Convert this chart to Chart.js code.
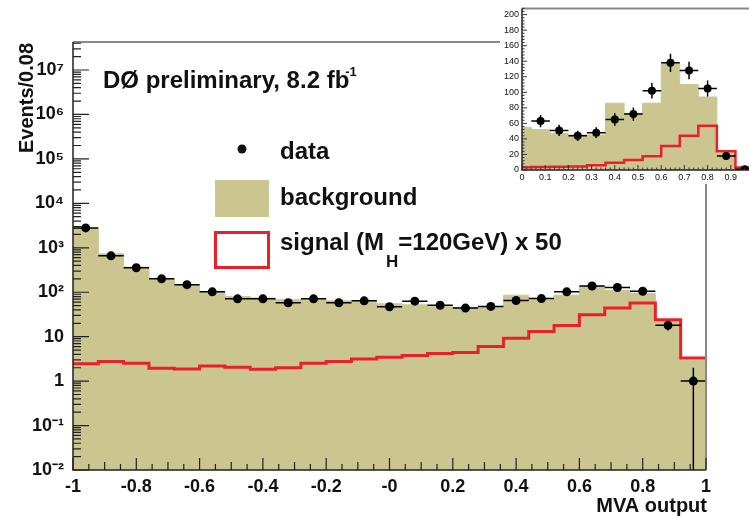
<!DOCTYPE html>
<html>
<head>
<meta charset="utf-8">
<script src="https://cdn.jsdelivr.net/npm/chart.js@4.4.1/dist/chart.umd.min.js"></script>
<style>
  html, body { margin: 0; padding: 0; background: #fff; overflow: hidden; }
  #wrap { position: relative; width: 749px; height: 517px; overflow: hidden; }
  #mainChart { position: absolute; left: 0; top: 0; }
  #insetChart { position: absolute; left: 500px; top: 0; }
</style>
</head>
<body>
<div id="wrap">
  <canvas id="mainChart" width="749" height="517"></canvas>
  <canvas id="insetChart" width="262" height="184"></canvas>
</div>
<script>
// MVA output, 25 bins of width 0.08 between -1 and 1
var binCenters = [-0.96, -0.88, -0.80, -0.72, -0.64, -0.56, -0.48, -0.40, -0.32, -0.24, -0.16, -0.08,
                  0.00, 0.08, 0.16, 0.24, 0.32, 0.40, 0.48, 0.56, 0.64, 0.72, 0.80, 0.88, 0.96];
var binWidth = 0.08;
var dataCounts = [2800, 660, 355, 200, 148, 102, 71, 71, 58, 71, 58, 64, 47,
                  63, 51, 44, 48, 65, 72, 102, 138, 128, 105, 18, 1];
var background = [2700, 730, 367, 200, 147, 104, 80, 74, 68, 68, 64, 62, 55,
                  52, 47, 45, 45, 86, 73, 86, 137, 110, 94, 22, 3];
var signalX50 = [2.45, 2.75, 2.53, 1.95, 1.88, 2.2, 2.05, 1.85, 2.0, 2.53, 2.75, 3.15, 3.45,
                 3.75, 4.2, 4.4, 6.0, 9.2, 13, 17.8, 31, 44, 57, 24, 3.3];

var xTickLabels = ['-1', '-0.8', '-0.6', '-0.4', '-0.2', '-0', '0.2', '0.4', '0.6', '0.8', '1'];
var yTickLabels = ['10⁻²', '10⁻¹', '1', '10', '10²', '10³', '10⁴', '10⁵', '10⁶', '10⁷'];
var insetXTickLabels = ['0', '0.1', '0.2', '0.3', '0.4', '0.5', '0.6', '0.7', '0.8', '0.9', '1'];
var insetYTickLabels = ['0', '20', '40', '60', '80', '100', '120', '140', '160', '180', '200'];

var FONT = "'Liberation Sans', Arial, sans-serif";
var TAN = 'rgb(203, 198, 144)';
var RED = '#e8202a';
var INK = '#111';

// histogram outline: one point per left bin edge plus the last right edge
function stepPoints(values, from) {
  var pts = [];
  for (var i = from; i < values.length; i++) {
    pts.push({ x: binCenters[i] - binWidth / 2, y: values[i] });
  }
  var last = values.length - 1;
  pts.push({ x: binCenters[last] + binWidth / 2, y: values[last] });
  return pts;
}

function dataPoints(from) {
  var pts = [];
  for (var i = from; i < dataCounts.length; i++) pts.push({ x: binCenters[i], y: dataCounts[i] });
  return pts;
}

var whiteBg = {
  id: 'whiteBg',
  beforeDraw: function (chart) {
    var ctx = chart.ctx;
    ctx.save();
    ctx.fillStyle = '#fff';
    ctx.fillRect(0, 0, chart.width, chart.height);
    ctx.restore();
  }
};

// poisson error bars, horizontal bar spans the bin
var errorBars = {
  id: 'errorBars',
  afterDatasetsDraw: function (chart) {
    var ctx = chart.ctx, a = chart.chartArea;
    var xs = chart.scales.x, ys = chart.scales.y;
    var lw = chart.options.plugins.errorBars.lineWidth || 1.5;
    ctx.save();
    ctx.beginPath();
    ctx.rect(a.left, a.top, a.right - a.left, a.bottom - a.top);
    ctx.clip();
    ctx.strokeStyle = '#000';
    ctx.lineWidth = lw;
    ctx.beginPath();
    chart.data.datasets[0].data.forEach(function (p) {
      var err = Math.sqrt(p.y);
      var px = xs.getPixelForValue(p.x);
      var py = ys.getPixelForValue(p.y);
      var lo = p.y - err;
      var yLo = lo > 0 ? ys.getPixelForValue(lo) : a.bottom;
      var yHi = ys.getPixelForValue(p.y + err);
      ctx.moveTo(xs.getPixelForValue(p.x - binWidth / 2), py);
      ctx.lineTo(xs.getPixelForValue(p.x + binWidth / 2), py);
      ctx.moveTo(px, yLo);
      ctx.lineTo(px, yHi);
    });
    ctx.stroke();
    ctx.restore();
  }
};

function drawFrame(ctx, a) {
  ctx.strokeStyle = '#888';
  ctx.lineWidth = 2;
  ctx.beginPath();
  ctx.moveTo(a.left, a.top);
  ctx.lineTo(a.right, a.top);
  ctx.lineTo(a.right, a.bottom);
  ctx.stroke();
  ctx.strokeStyle = '#222';
  ctx.lineWidth = 1.5;
  ctx.beginPath();
  ctx.moveTo(a.left, a.top);
  ctx.lineTo(a.left, a.bottom);
  ctx.lineTo(a.right, a.bottom);
  ctx.stroke();
}

var mainDecor = {
  id: 'mainDecor',
  afterDraw: function (chart) {
    var ctx = chart.ctx, a = chart.chartArea;
    var xs = chart.scales.x, ys = chart.scales.y;
    ctx.save();
    drawFrame(ctx, a);

    // ticks point into the frame
    ctx.strokeStyle = '#222';
    ctx.lineWidth = 1.2;
    ctx.beginPath();
    for (var i = 0; i <= 40; i++) {
      var px = xs.getPixelForValue(-1 + i * 0.05);
      var len = i % 4 === 0 ? 12 : (i % 2 === 0 ? 8 : 6);
      ctx.moveTo(px, a.bottom);
      ctx.lineTo(px, a.bottom - len);
    }
    for (var d = -2; d <= 7; d++) {
      for (var k = 1; k <= 9; k++) {
        var v = k * Math.pow(10, d);
        if (v > ys.max) break;
        var py = ys.getPixelForValue(v);
        ctx.moveTo(a.left, py);
        ctx.lineTo(a.left + (k === 1 ? 16 : 8), py);
      }
    }
    ctx.stroke();

    ctx.fillStyle = INK;
    ctx.textBaseline = 'alphabetic';

    // experiment label
    ctx.font = 'bold 24px ' + FONT;
    ctx.textAlign = 'left';
    var lab = 'DØ preliminary, 8.2 fb';
    ctx.fillText(lab, 103, 88);
    var w = ctx.measureText(lab).width;
    ctx.font = 'bold 13px ' + FONT;
    ctx.fillText('-1', 103 + w - 4, 76);

    // axis titles
    ctx.font = 'bold 20px ' + FONT;
    ctx.textAlign = 'right';
    ctx.fillText('MVA output', a.right + 1, 512);
    ctx.save();
    ctx.translate(33, 43);
    ctx.rotate(-Math.PI / 2);
    ctx.fillText('Events/0.08', 0, 0);
    ctx.restore();

    // legend
    ctx.textAlign = 'left';
    ctx.beginPath();
    ctx.arc(242, 149, 4.5, 0, Math.PI * 2);
    ctx.fill();
    ctx.fillStyle = TAN;
    ctx.fillRect(215, 180, 54, 37);
    ctx.strokeStyle = RED;
    ctx.lineWidth = 3;
    ctx.strokeRect(215.5, 232.5, 53, 35);

    ctx.fillStyle = INK;
    ctx.font = 'bold 24px ' + FONT;
    ctx.fillText('data', 280, 159);
    ctx.fillText('background', 280, 205);
    var s1 = 'signal (M';
    ctx.fillText(s1, 280, 250);
    var x1 = 280 + ctx.measureText(s1).width;
    ctx.font = 'bold 17px ' + FONT;
    ctx.fillText('H', x1 + 2, 267);
    var x2 = x1 + 2 + ctx.measureText('H').width;
    ctx.font = 'bold 24px ' + FONT;
    ctx.fillText('=120GeV) x 50', x2, 250);
    ctx.restore();
  }
};

var insetDecor = {
  id: 'insetDecor',
  afterDraw: function (chart) {
    var ctx = chart.ctx, a = chart.chartArea;
    var xs = chart.scales.x, ys = chart.scales.y;
    ctx.save();
    drawFrame(ctx, a);
    ctx.strokeStyle = '#333';
    ctx.lineWidth = 1;
    ctx.beginPath();
    for (var i = 0; i <= 50; i++) {
      var px = xs.getPixelForValue(i * 0.02);
      ctx.moveTo(px, a.bottom);
      ctx.lineTo(px, a.bottom - (i % 5 === 0 ? 5 : 2.5));
    }
    for (var j = 0; j <= 52; j++) {
      var py = ys.getPixelForValue(j * 4);
      ctx.moveTo(a.left, py);
      ctx.lineTo(a.left + (j % 5 === 0 ? 5 : 2.5), py);
    }
    ctx.stroke();
    ctx.restore();
  }
};

var tickFont = { family: FONT, size: 18, weight: 'bold' };

new Chart(document.getElementById('mainChart'), {
  type: 'scatter',
  data: {
    datasets: [
      {
        label: 'data',
        data: dataPoints(0),
        order: 0,
        pointRadius: 4.5,
        pointBackgroundColor: '#000',
        pointBorderColor: '#000',
        pointBorderWidth: 0
      },
      {
        label: 'signal (MH=120GeV) x 50',
        type: 'line',
        data: stepPoints(signalX50, 0),
        order: 1,
        stepped: true,
        borderColor: RED,
        borderWidth: 3,
        pointRadius: 0,
        fill: false
      },
      {
        label: 'background',
        type: 'line',
        data: stepPoints(background, 0),
        order: 2,
        stepped: true,
        borderColor: TAN,
        borderWidth: 1,
        backgroundColor: TAN,
        pointRadius: 0,
        fill: 'start'
      }
    ]
  },
  options: {
    responsive: false,
    animation: false,
    devicePixelRatio: 1,
    layout: { padding: { left: 0, top: 42, right: 43, bottom: 0 } },
    plugins: {
      legend: { display: false },
      tooltip: { enabled: false },
      errorBars: { lineWidth: 1.5 }
    },
    scales: {
      x: {
        type: 'linear',
        min: -1,
        max: 1,
        grid: { display: false, drawTicks: false },
        border: { display: false },
        afterFit: function (s) { s.height = 47; },
        afterBuildTicks: function (s) {
          s.ticks = xTickLabels.map(function (t, i) { return { value: -1 + 0.2 * i }; });
        },
        ticks: {
          autoSkip: false,
          maxRotation: 0,
          padding: 6,
          color: INK,
          font: tickFont,
          callback: function (v, i) { return xTickLabels[i]; }
        }
      },
      y: {
        type: 'logarithmic',
        min: 0.01,
        max: 4.27e7,
        grid: { display: false, drawTicks: false },
        border: { display: false },
        afterFit: function (s) { s.width = 73; },
        afterBuildTicks: function (s) {
          s.ticks = yTickLabels.map(function (t, i) { return { value: Math.pow(10, i - 2) }; });
        },
        ticks: {
          autoSkip: false,
          padding: 9,
          color: INK,
          font: tickFont,
          callback: function (v, i) { return yTickLabels[i]; }
        }
      }
    }
  },
  plugins: [whiteBg, errorBars, mainDecor]
});

// zoom on the high-MVA region, linear scale
new Chart(document.getElementById('insetChart'), {
  type: 'scatter',
  data: {
    datasets: [
      {
        label: 'data',
        data: dataPoints(13),
        order: 0,
        pointRadius: 4,
        pointBackgroundColor: '#000',
        pointBorderColor: '#000',
        pointBorderWidth: 0
      },
      {
        label: 'signal',
        type: 'line',
        data: stepPoints(signalX50, 12),
        order: 1,
        stepped: true,
        borderColor: RED,
        borderWidth: 2.5,
        pointRadius: 0,
        fill: false
      },
      {
        label: 'background',
        type: 'line',
        data: stepPoints(background, 12),
        order: 2,
        stepped: true,
        borderColor: TAN,
        borderWidth: 1,
        backgroundColor: TAN,
        pointRadius: 0,
        fill: 'start'
      }
    ]
  },
  options: {
    responsive: false,
    animation: false,
    devicePixelRatio: 1,
    layout: { padding: { left: 0, top: 8, right: 8, bottom: 0 } },
    plugins: {
      legend: { display: false },
      tooltip: { enabled: false },
      errorBars: { lineWidth: 1.5 }
    },
    scales: {
      x: {
        type: 'linear',
        min: 0,
        max: 1,
        grid: { display: false, drawTicks: false },
        border: { display: false },
        afterFit: function (s) { s.height = 14; },
        afterBuildTicks: function (s) {
          s.ticks = insetXTickLabels.map(function (t, i) { return { value: 0.1 * i }; });
        },
        ticks: {
          autoSkip: false,
          maxRotation: 0,
          padding: 2,
          color: INK,
          font: { family: FONT, size: 9 },
          callback: function (v, i) { return insetXTickLabels[i]; }
        }
      },
      y: {
        type: 'linear',
        min: 0,
        max: 208,
        grid: { display: false, drawTicks: false },
        border: { display: false },
        afterFit: function (s) { s.width = 22; },
        afterBuildTicks: function (s) {
          s.ticks = insetYTickLabels.map(function (t, i) { return { value: 20 * i }; });
        },
        ticks: {
          autoSkip: false,
          padding: 3,
          color: INK,
          font: { family: FONT, size: 9 },
          callback: function (v, i) { return insetYTickLabels[i]; }
        }
      }
    }
  },
  plugins: [whiteBg, errorBars, insetDecor]
});
</script>
</body>
</html>
